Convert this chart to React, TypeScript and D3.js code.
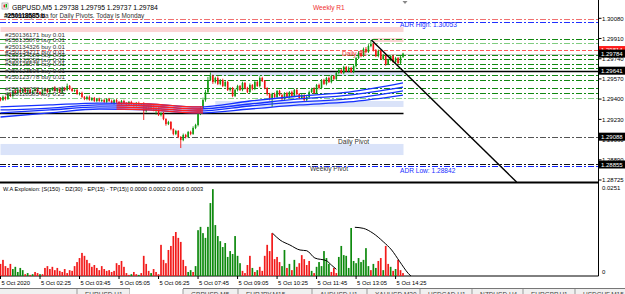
import React from "react";
import * as d3 from "d3";

// ---------- DATA ----------
const T0 = new Date(2020, 9, 5, 1, 5).getTime();
const barTime = (i: number) => new Date(T0 + i * 300000);

const firstOpen = 1.29412;
const closes = [
  1.29395, 1.29421, 1.29404, 1.29446, 1.29429, 1.29471, 1.29454, 1.29479, 1.29462, 1.29488,
  1.29462, 1.29479, 1.29454, 1.29471, 1.29488, 1.29462, 1.29446, 1.29471, 1.29488, 1.29462,
  1.29479, 1.29496, 1.29471, 1.29488, 1.29462, 1.29496, 1.29479, 1.29513, 1.29488, 1.29471,
  1.29479, 1.29446, 1.29454, 1.29421, 1.29404, 1.29421, 1.29395, 1.29412, 1.29387, 1.29404,
  1.29387, 1.29395, 1.29379, 1.29404, 1.29387, 1.2937, 1.29395, 1.29379, 1.29362, 1.29387,
  1.2937, 1.29354, 1.29379, 1.29362, 1.29345, 1.2937, 1.29354, 1.29362, 1.29303, 1.29337,
  1.2932, 1.29345, 1.29312, 1.29328, 1.2927, 1.29286, 1.29236, 1.29194, 1.29211, 1.29152,
  1.29111, 1.29136, 1.29085, 1.2906, 1.29102, 1.29085, 1.29127, 1.29111, 1.29161, 1.29186,
  1.29278, 1.29328, 1.29395, 1.29462, 1.29563, 1.29596, 1.29546, 1.2958, 1.2953, 1.29563,
  1.29513, 1.29546, 1.29479, 1.29496, 1.29429, 1.29479, 1.29513, 1.29479, 1.29538, 1.29496,
  1.29462, 1.29521, 1.29488, 1.29546, 1.29513, 1.2958, 1.29555, 1.29496, 1.29446, 1.29412,
  1.29446, 1.29421, 1.29471, 1.29437, 1.29404, 1.29454, 1.29421, 1.29462, 1.29429, 1.29479,
  1.29446, 1.29412, 1.29437, 1.29395, 1.29421, 1.29462, 1.29488, 1.29454, 1.29521, 1.29496,
  1.29563, 1.2953, 1.2958, 1.29546, 1.29596, 1.29571, 1.29622, 1.29647, 1.29622, 1.29672,
  1.29638, 1.29664, 1.2963, 1.2968, 1.29747, 1.29789, 1.29764, 1.29823, 1.29798, 1.29848,
  1.29865, 1.29814, 1.29764, 1.29806, 1.29739, 1.29772, 1.29697, 1.29731, 1.29764, 1.29714,
  1.29747, 1.29705, 1.29756, 1.29784,
];
// wick extensions in points (0.00001)
const wickHi = [
  8, 12, 6, 15, 10, 9, 14, 7, 11, 8, 13, 6, 10, 9, 12, 8, 7, 14, 10, 9,
  11, 8, 15, 10, 7, 12, 9, 20, 8, 10, 6, 9, 7, 11, 8, 10, 12, 7, 9, 8,
  11, 6, 10, 8, 9, 12, 7, 10, 8, 9, 11, 7, 8, 10, 6, 9, 12, 8, 15, 10,
  9, 11, 7, 10, 8, 6, 9, 7, 10, 8, 6, 9, 7, 8, 12, 10, 9, 11, 14, 10,
  12, 15, 20, 18, 25, 30, 12, 10, 14, 9, 11, 8, 10, 7, 9, 12, 10, 8, 11, 9,
  10, 13, 8, 11, 9, 14, 10, 8, 7, 9, 10, 12, 8, 9, 11, 7, 10, 8, 12, 9,
  10, 8, 11, 7, 9, 12, 10, 14, 9, 11, 8, 10, 9, 12, 10, 8, 11, 13, 9, 10,
  8, 12, 9, 11, 10, 15, 14, 12, 16, 15, 34, 10, 9, 12, 8, 10, 9, 11, 8, 12,
  10, 9, 8, 7,
];
const wickLo = [
  10, 7, 12, 8, 9, 14, 6, 10, 8, 11, 7, 12, 9, 10, 6, 11, 8, 9, 13, 7,
  10, 9, 6, 12, 8, 7, 11, 9, 10, 8, 9, 7, 12, 8, 10, 11, 6, 9, 8, 12,
  7, 10, 9, 11, 8, 6, 12, 9, 10, 7, 9, 11, 8, 10, 12, 7, 9, 10, 75, 12,
  10, 8, 11, 40, 9, 12, 10, 14, 9, 11, 12, 10, 9, 67, 10, 12, 9, 11, 8, 10,
  12, 9, 11, 14, 10, 9, 16, 12, 10, 11, 9, 11, 8, 12, 10, 9, 11, 8, 10, 12,
  9, 7, 11, 10, 8, 12, 9, 11, 14, 20, 75, 8, 10, 9, 12, 7, 11, 10, 8, 9,
  12, 10, 8, 9, 14, 11, 9, 10, 8, 12, 10, 9, 12, 8, 11, 10, 9, 12, 8, 10,
  9, 11, 8, 10, 12, 9, 11, 8, 10, 9, 10, 12, 9, 11, 8, 10, 14, 9, 11, 8,
  10, 9, 11, 8,
];

// moving averages (control points)
const maIdx = [0, 20, 40, 60, 80, 101, 121, 141, 163];
const maA = [1.29337, 1.29354, 1.2937, 1.29362, 1.29337, 1.29387, 1.29429, 1.29462, 1.29538];
const maB = [1.29312, 1.29328, 1.29354, 1.29345, 1.2932, 1.29362, 1.29404, 1.29437, 1.29504];
const maC = [1.29287, 1.29312, 1.29337, 1.29328, 1.29303, 1.29345, 1.29379, 1.29404, 1.29471];
const maD = [1.29253, 1.29287, 1.2932, 1.29312, 1.29287, 1.2932, 1.29354, 1.29379, 1.29437];
const maRedFrom = 47;
const maRedTo = 82;

// indicator histogram
const histVals = [
  0.0033, 0.0044, 0.0027, 0.0022, 0.0033, 0.0019, 0.0025, 0.0011, 0.0022, 0.0016,
  0.0005, 0.0008, 0.0003, 0.0005, 0.0011, 0.0008, 0.0005, 0.0005, 0.0022, 0.0027,
  0.0019, 0.0025, 0.0016, 0.0022, 0.0014, 0.0011, 0.0019, 0.0008, 0.0016, 0.0014,
  0.0027, 0.0038, 0.0049, 0.0063, 0.0055, 0.0044, 0.0035, 0.0025, 0.003, 0.0022,
  0.0016, 0.0027, 0.0019, 0.0014, 0.0016, 0.0011, 0.0014, 0.0035, 0.003, 0.0041,
  0.0025, 0.0008, 0.0003, 0.0005, 0.0011, 0.0005, 0.0003, 0.0008, 0.0055, 0.0033,
  0.0014, 0.0008, 0.0019, 0.0011, 0.0005, 0.0085, 0.0044, 0.0035, 0.0071, 0.0082,
  0.0109, 0.012, 0.0104, 0.0093, 0.0044, 0.0027, 0.0011, 0.0016, 0.0011, 0.0027,
  0.0125, 0.0134, 0.0117, 0.0104, 0.0134, 0.0199, 0.0237, 0.0139, 0.0109, 0.0095,
  0.0079, 0.009, 0.0052, 0.0068, 0.006, 0.0109, 0.0055, 0.0035, 0.0014, 0.0008,
  0.003, 0.0055, 0.0022, 0.0011, 0.0016, 0.0025, 0.0014, 0.0055, 0.0085, 0.0068,
  0.0117, 0.0046, 0.0052, 0.0038, 0.0027, 0.0071, 0.0022, 0.0033, 0.0016, 0.0044,
  0.0025, 0.0035, 0.0057, 0.0046, 0.003, 0.0041, 0.0014, 0.0008, 0.0025, 0.0038,
  0.0027, 0.0068, 0.0049, 0.0033, 0.0011, 0.0022, 0.0008, 0.0052, 0.0082, 0.0057,
  0.0055, 0.0022, 0.0131, 0.0041, 0.0035, 0.0049, 0.0038, 0.0044, 0.0076, 0.0027,
  0.0016, 0.0033, 0.0022, 0.0041, 0.0049, 0.0016, 0.0082, 0.0033, 0.0025, 0.0014,
  0.0019, 0.0044, 0.0016, 0.0008,
];
const histDir = (
  "rrrrrggggg" + "rgrgrrgrrr" + "rrrrrrrrrr" + "rrrrrrrrrr" + "rrrrrrrrrr" +
  "rrrgrrgrrr" + "rgrrrrrrrr" + "rrrrrrggrg" + "gggggggggg" + "ggggggggrr" +
  "rrgrgrrrrr" + "rrrrggrgrg" + "rrrrrrgrgg" + "ggggrrrggg" + "gggggggggg" +
  "rggrrgrrgr" + "grrr"
).split("");
const curve1 = [[110.2, 0.01165], [113.2, 0.00982], [117.2, 0.00846], [121.3, 0.00709], [124, 0.0069], [127.3, 0.00491], [132, 0.00417], [134, 0.003], [136, 0.00183]];
const curve2 = [[143.5, 0.01329], [146.9, 0.01301], [150.9, 0.01165], [155, 0.00936], [158.4, 0.00709], [161.7, 0.0039], [165.1, 0.00074], [166.2, 0]];

// axes
const priceTicks = [1.3008, 1.29911, 1.29741, 1.29572, 1.29403, 1.29233, 1.29064, 1.28894, 1.28725];
const priceTickLabels = ["1.30080", "1.29910", "1.29740", "1.29570", "1.29400", "1.29230", "1.29060", "1.28890", "1.28725"];
const timeTickIdx = [0, 16, 32, 48, 64, 80, 96, 112, 128, 144, 160];
const timeTickLabels = ["5 Oct 2020", "5 Oct 02:25", "5 Oct 03:45", "5 Oct 05:05", "5 Oct 06:25", "5 Oct 07:45", "5 Oct 09:05", "5 Oct 10:25", "5 Oct 11:45", "5 Oct 13:05", "5 Oct 14:25"];

// orders
const orderIds = ["#250136171", "#250135870", "#250134326", "#250134271", "#250134189", "#250133298", "#250125575", "#250123506", "#250123778", "#250133732", "#250118585"];
const orderLots = ["0.01", "0.01", "0.01", "0.01", "0.01", "0.01", "0.01", "0.01", "0.01", "0.01", "0.25"];
const orderPrices = [1.29907, 1.29869, 1.29814, 1.29772, 1.29743, 1.29701, 1.29664, 1.29605, 1.29559, 1.29458, 1.29416];
const orderColors = ["#118811", "#7fcc7f", "#ff5a5a", "#118811", "#118811", "#118811", "#118811", "#118811", "#118811", "#118811", "#86cf86"];
const extraLevel = 1.29496;

// levels
const weeklyR1 = 1.3007;
const adrHigh = 1.30053;
const dailyPivot = 1.29088;
const weeklyPivot = 1.28855;
const adrLow = 1.28842;
const blackLevel = 1.29641;
const blackLevel2 = 1.29287;
const bidPrice = 1.29784;
// zones [top, bottom, fromIdx]
const zoneTop = [1.30007, 1.29915, 1.29638, 1.29387, 1.29027];
const zoneBot = [1.29965, 1.29881, 1.29597, 1.29337, 1.28934];
const zoneFrom = [0, 151, 85, 87, 0];
const zoneColor = ["#fbd4d4", "#fbd4d4", "#dae3f9", "#dae3f9", "#dae3f9"];
const trend = [[150.2, 1.29898], [209, 1.28708]];

const tabs = ["EURUSD,H1", "USDJPY,H4", "GBPUSD,M5", "EURJPY,M15", "AUDUSD,H1", "XAUUSD,M30", "USDCAD,H1", "NZDUSD,H4", "EURGBP,H1", "USDCHF,M15"];
const tabEdges = [0, 77, 130, 183, 238, 312, 367, 420, 472, 523, 575, 625];

// ---------- CHART ----------
export default function App() {
  const W = 625, H = 294;
  const PR = 598.5; // plot right
  const x = d3.scaleTime().domain([barTime(0), barTime(163)]).range([0.5, 403]);
  const xi = (i: number) => x(barTime(i));
  const y = d3.scaleLinear().domain([1.28725, 1.3008]).range([180, 18.3]);
  const yi = d3.scaleLinear().domain([0, 0.0251]).range([276, 184]);
  const xEnd = xi(163) + 0.5;

  const maLine = (arr: number[]) =>
    d3.line<number>().x((_, k) => xi(maIdx[k])).y((v) => y(v)).curve(d3.curveMonotoneX)(arr) || "";
  const maArea = d3
    .area<number>()
    .x((_, k) => xi(maIdx[k]))
    .y0((_, k) => y(maD[k]))
    .y1((v) => y(v))
    .curve(d3.curveMonotoneX)(maA) || "";
  const indLine = (pts: number[][]) =>
    d3.line<number[]>().x((p) => xi(p[0])).y((p) => yi(p[1])).curve(d3.curveMonotoneX)(pts) || "";

  const dashDot = "6,2,2,2";
  const font = "'Liberation Sans', Arial, sans-serif";

  const hline = (p: number, color: string, dash?: string, x2 = PR, w = 1) => (
    <line x1={0} x2={x2} y1={Math.round(y(p)) + 0.5} y2={Math.round(y(p)) + 0.5} stroke={color} strokeWidth={w} strokeDasharray={dash} />
  );

  const boxes: [number, string, string][] = [
    [1.29814, "#ff1a1a", "1.29814"],
    [bidPrice, "#000", "1.29784"],
    [blackLevel, "#000", "1.29641"],
    [dailyPivot, "#000", "1.29088"],
    [weeklyPivot, "#000", "1.28855"],
  ];

  return (
    <svg width={W} height={H} style={{ position: "absolute", left: 0, top: 0, background: "#fff" }} fontFamily={font}>
      <defs>
        <clipPath id="mainClip"><rect x={0} y={0} width={PR} height={182} /></clipPath>
        <clipPath id="indClip"><rect x={0} y={184} width={PR} height={92} /></clipPath>
        <clipPath id="redClip"><rect x={xi(maRedFrom)} y={0} width={xi(maRedTo) - xi(maRedFrom)} height={182} /></clipPath>
      </defs>
      <rect x={0} y={0} width={W} height={H} fill="#fff" />

      <g clipPath="url(#mainClip)">
        {/* zones */}
        {zoneTop.map((t, k) => (
          <rect key={"z" + k} x={xi(zoneFrom[k])} width={xEnd - xi(zoneFrom[k])} y={y(t)} height={y(zoneBot[k]) - y(t)} fill={zoneColor[k]} />
        ))}
        {/* levels */}
        {hline(weeklyR1, "#f07070", dashDot)}
        {hline(adrHigh, "#2030ff", dashDot)}
        {orderPrices.map((p, k) => <g key={"o" + k}>{hline(p, orderColors[k], k === 2 ? "4,2" : dashDot)}</g>)}
        {hline(extraLevel, "#118811", dashDot)}
        {hline(bidPrice, "#c8c8c8")}
        {hline(blackLevel, "#000", undefined, PR, 1.6)}
        {hline(blackLevel2, "#000", undefined, xEnd, 1.4)}
        {hline(dailyPivot, "#555", dashDot)}
        {hline(weeklyPivot, "#111", dashDot)}
        {hline(adrLow, "#1020ff", dashDot)}

        {/* candles */}
        {closes.map((c, i) => {
          const o = i === 0 ? firstOpen : closes[i - 1];
          const hi = Math.max(o, c) + wickHi[i] * 1e-5;
          const lo = Math.min(o, c) - wickLo[i] * 1e-5;
          const bull = c >= o;
          const col = bull ? "#109a10" : "#f01414";
          const cx = xi(i);
          const top = y(Math.max(o, c));
          const h = Math.max(0.8, y(Math.min(o, c)) - top);
          return (
            <g key={"c" + i}>
              <line x1={cx} x2={cx} y1={y(hi)} y2={y(lo)} stroke={col} strokeWidth={0.9} />
              <rect x={cx - 0.8} width={1.6} y={top} height={h} fill={col} />
            </g>
          );
        })}

        {/* moving averages */}
        <path d={maArea} fill="#f7b8b8" opacity={0.55} clipPath="url(#redClip)" />
        {[maA, maB, maC, maD].map((m, k) => (
          <path key={"mb" + k} d={maLine(m)} fill="none" stroke="#1530ff" strokeWidth={1.3} />
        ))}
        <g clipPath="url(#redClip)">
          {[maA, maB, maC, maD].map((m, k) => (
            <path key={"mr" + k} d={maLine(m)} fill="none" stroke="#ff2020" strokeWidth={1.3} />
          ))}
        </g>

        {/* trend line */}
        <line x1={xi(trend[0][0])} y1={y(trend[0][1])} x2={xi(trend[1][0])} y2={y(trend[1][1])} stroke="#000" strokeWidth={1.4} />

        {/* order texts */}
        {orderIds.map((id, k) => (
          <text key={"t" + k} x={5} y={y(orderPrices[k]) - 1.5} fontSize={6.2} fill="#333">
            {id} buy {orderLots[k]}
          </text>
        ))}

        {/* labels */}
        <text x={313} y={10} fontSize={6.6} fill="#f03030">Weekly R1</text>
        <text x={400} y={y(adrHigh) + 5.5} fontSize={6.6} fill="#2030ff">ADR High: 1.30053</text>
        <text x={342} y={56} fontSize={6.6} fill="#f03030">Daily R1</text>
        <text x={338} y={y(dailyPivot) + 7} fontSize={6.6} fill="#333">Daily Pivot</text>
        <text x={310} y={y(adrLow) + 5} fontSize={6.6} fill="#333">Weekly Pivot</text>
        <text x={400} y={y(adrLow) + 6.5} fontSize={6.6} fill="#2030ff">ADR Low: 1.28842</text>

        {/* header */}
        <rect x={2} y={3} width={6} height={6} fill="#fff" stroke="#888" strokeWidth={0.6} />
        <rect x={3.5} y={4.5} width={1.5} height={3} fill="#d22" />
        <rect x={5.5} y={4} width={1.5} height={3.5} fill="#1a1" />
        <text x={12} y={9.5} fontSize={6.8} fill="#000">GBPUSD,M5  1.29738 1.29795 1.29737 1.29784</text>
        <text x={5} y={17.5} fontSize={6.4} fill="#333">Yesterday Data for Daily Pivots.  Today is Monday</text>
        <text x={4} y={17.5} fontSize={6.4} fill="#000" fontWeight="bold">#250118585 b</text>
        <path d="M402.5,1 L407.5,1 L405,4 Z" fill="#888" />
      </g>

      {/* panel frames */}
      <line x1={0} x2={PR} y1={182.5} y2={182.5} stroke="#000" strokeWidth={2} />
      <line x1={0} x2={PR} y1={276} y2={276} stroke="#000" strokeWidth={1} />
      <line x1={PR} x2={PR} y1={0} y2={276} stroke="#000" strokeWidth={1} />

      {/* indicator */}
      <g clipPath="url(#indClip)">
        {histVals.map((v, i) => (
          <rect key={"h" + i} x={xi(i) - 0.85} width={1.7} y={yi(v)} height={yi(0) - yi(v)} fill={histDir[i] === "g" ? "#0e8a0e" : "#f21a1a"} />
        ))}
        <path d={indLine(curve1)} fill="none" stroke="#000" strokeWidth={1} />
        <path d={indLine(curve2)} fill="none" stroke="#000" strokeWidth={1} />
        <text x={3} y={191} fontSize={5.6} fill="#000">W.A Explosion: [S(150) - DZ(30) - EP(15) - TP(15)] 0.0000 0.0002 0.0016 0.0003</text>
      </g>

      {/* price axis */}
      {priceTicks.map((p, k) => (
        <g key={"pt" + k}>
          <line x1={PR} x2={PR + 3} y1={y(p)} y2={y(p)} stroke="#000" />
          <text x={602} y={y(p) + 2.2} fontSize={6} fill="#000">{priceTickLabels[k]}</text>
        </g>
      ))}
      {boxes.map(([p, c, t], k) => (
        <g key={"b" + k}>
          <rect x={599} y={y(p) - 4} width={26} height={8} fill={c} />
          <text x={601} y={y(p) + 2.2} fontSize={6} fill="#fff">{t}</text>
        </g>
      ))}
      <text x={602} y={190} fontSize={6} fill="#000">0.0251</text>
      <text x={602} y={274} fontSize={6} fill="#000">0</text>

      {/* time axis */}
      {timeTickIdx.map((i, k) => (
        <g key={"tt" + k}>
          <line x1={xi(i)} x2={xi(i)} y1={276} y2={279} stroke="#000" />
          <text x={xi(i) + 1} y={284.5} fontSize={5.8} fill="#000">{timeTickLabels[k]}</text>
        </g>
      ))}

      {/* tabs */}
      <rect x={0} y={288} width={W} height={6} fill="#f0f0f0" />
      <line x1={0} x2={W} y1={288.5} y2={288.5} stroke="#777" />
      {tabs.map((t, k) => (
        <g key={"tab" + k}>
          {k === 2 && <rect x={tabEdges[k + 1] - 53} y={288} width={53} height={6} fill="#fff" />}
          <line x1={tabEdges[k + 1]} x2={tabEdges[k + 1]} y1={289} y2={294} stroke="#999" />
          <text x={tabEdges[k + 1] + 8} y={297} fontSize={6.5} fill="#444">{t}</text>
        </g>
      ))}
    </svg>
  );
}
